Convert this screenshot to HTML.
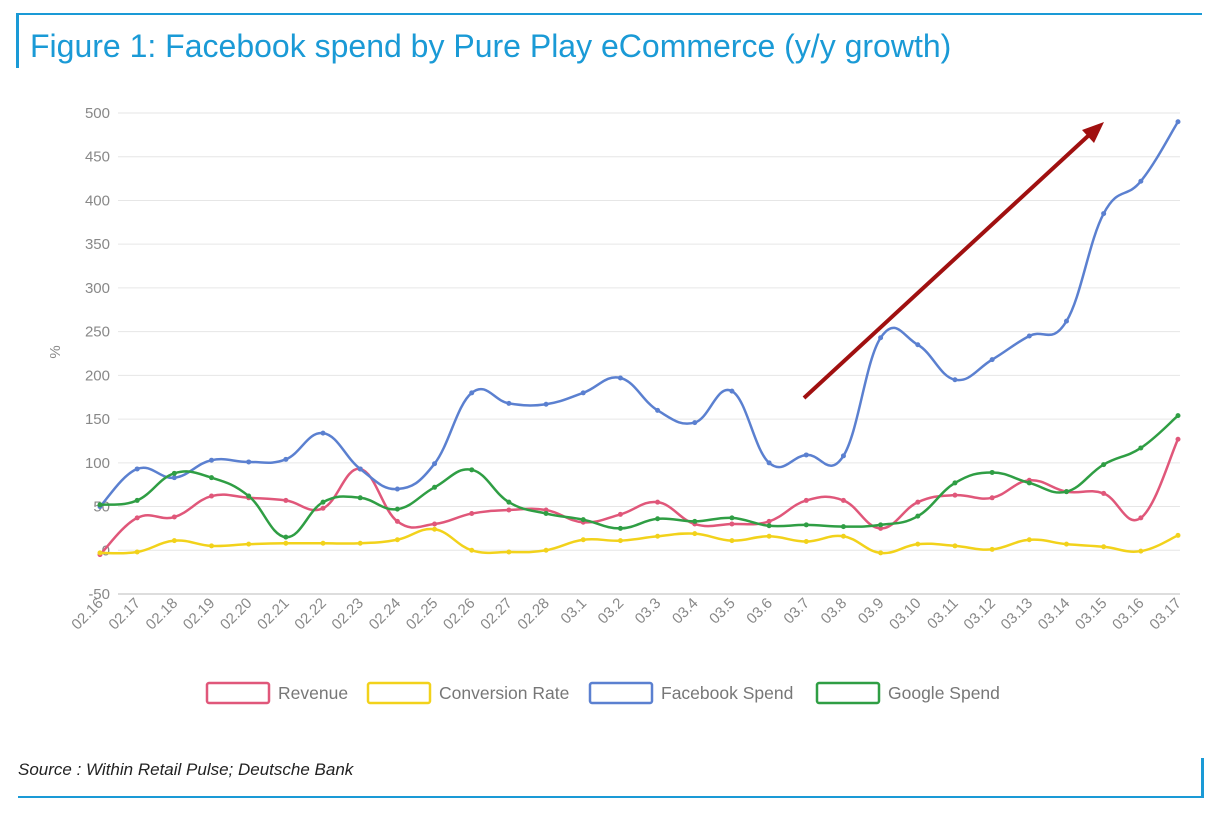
<!DOCTYPE html>
<html><head><meta charset="utf-8"><style>
body{margin:0;width:1218px;height:816px;background:#fff;font-family:"Liberation Sans",sans-serif;overflow:hidden;position:relative}
#title{position:absolute;left:30px;top:28px;font-size:32px;color:#1a9ad6;white-space:nowrap}
</style></head><body>
<div style="position:absolute;left:18px;top:13px;width:1184px;height:2px;background:#1a9ad6"></div>
<div style="position:absolute;left:16px;top:13px;width:3px;height:55px;background:#1a9ad6"></div>
<div id="title">Figure 1: Facebook spend by Pure Play eCommerce (y/y growth)</div>
<svg id="chart" width="1218" height="816" style="position:absolute;left:0;top:0"></svg>
<div style="position:absolute;left:18px;top:760px;font-size:17px;font-style:italic;color:#222">Source : Within Retail Pulse; Deutsche Bank</div>
<div style="position:absolute;left:18px;top:796px;width:1186px;height:2px;background:#1a9ad6"></div>
<div style="position:absolute;left:1201px;top:758px;width:3px;height:40px;background:#1a9ad6"></div>
<script>
const categories=["02.16","02.17","02.18","02.19","02.20","02.21","02.22","02.23","02.24","02.25","02.26","02.27","02.28","03.1","03.2","03.3","03.4","03.5","03.6","03.7","03.8","03.9","03.10","03.11","03.12","03.13","03.14","03.15","03.16","03.17"];
const revenue=[-5,37,38,62,60,57,48,93,33,30,42,46,46,32,41,55,30,30,33,57,57,25,55,63,60,80,67,65,37,127];
const conversionRate=[-3,-2,11,5,7,8,8,8,12,24,0,-2,0,12,11,16,19,11,16,10,16,-3,7,5,1,12,7,4,-1,17];
const facebookSpend=[50,93,83,103,101,104,134,93,70,99,180,168,167,180,197,160,146,182,100,109,108,243,235,195,218,245,262,385,422,490];
const googleSpend=[52,57,88,83,62,15,55,60,47,72,92,55,42,35,25,36,33,37,28,29,27,29,39,77,89,77,67,98,117,154];
const yTicks=[-50,0,50,100,150,200,250,300,350,400,450,500];
const seriesNames=["Revenue","Conversion Rate","Facebook Spend","Google Spend"];
const svg=document.getElementById('chart');const NS="http://www.w3.org/2000/svg";
const x0=100,x1=1178,yTop=113,yBot=594;
const xs=i=>x0+i*(x1-x0)/(categories.length-1);
const ys=v=>yBot-(v+50)*(yBot-yTop)/550;
function mk(t,a,p){const e=document.createElementNS(NS,t);for(const k in a)e.setAttribute(k,a[k]);(p||svg).appendChild(e);return e;}
yTicks.forEach(v=>{
 const l=mk('line',{x1:118,x2:1180,y1:ys(v),y2:ys(v),stroke:v===-50?'#bbb':'#e6e6e6','stroke-width':1});
 
 
 const t=mk('text',{x:110,y:ys(v)+5,'text-anchor':'end','font-size':15,fill:'#888'});t.textContent=v;
 
 
});
const yl=mk('text',{x:60,y:352,'font-size':15,fill:'#888',transform:'rotate(-90 60 352)','text-anchor':'middle'});yl.textContent='%';


categories.forEach((c,i)=>{
 const x=xs(i);
 const t=mk('text',{x:x+4,y:604,'text-anchor':'end','font-size':15,fill:'#888',transform:`rotate(-45 ${x+4} 604)`});t.textContent=c;
 
 
});
function path(vals){let d=`M${xs(0)},${ys(vals[0])}`;const n=vals.length;
 for(let i=0;i<n-1;i++){const p0=[xs(Math.max(i-1,0)),ys(vals[Math.max(i-1,0)])],p1=[xs(i),ys(vals[i])],p2=[xs(i+1),ys(vals[i+1])],p3=[xs(Math.min(i+2,n-1)),ys(vals[Math.min(i+2,n-1)])];
 const t=0.2;d+=` C${p1[0]+(p2[0]-p0[0])*t},${p1[1]+(p2[1]-p0[1])*t} ${p2[0]-(p3[0]-p1[0])*t},${p2[1]-(p3[1]-p1[1])*t} ${p2[0]},${p2[1]}`;}
 return d;}
const colors=["#e0577a","#f2d21b","#5b80d0","#2f9e44"];
[revenue,conversionRate,facebookSpend,googleSpend].forEach((vals,k)=>{
 const p=mk('path',{d:path(vals),fill:'none',stroke:colors[k],'stroke-width':2.5});
 
 
 vals.forEach((v,i)=>{const c=mk('circle',{cx:xs(i),cy:ys(v),r:2.5,fill:colors[k]});
  
  });
});
const ar=mk('line',{x1:804,y1:398,x2:1088,y2:136,stroke:'#a01010','stroke-width':4});


const ah=mk('polygon',{points:'1104,122 1082,130 1094,143',fill:'#a01010'});


const lx=[207,368,590,817];
seriesNames.forEach((n,k)=>{
 const r=mk('rect',{x:lx[k],y:683,width:62,height:20,rx:2,fill:'none',stroke:colors[k],'stroke-width':2.5});
 
 
 const t=mk('text',{x:lx[k]+71,y:699,'font-size':17.5,fill:'#777'});t.textContent=n;
 
 
});
</script>
</body></html>
